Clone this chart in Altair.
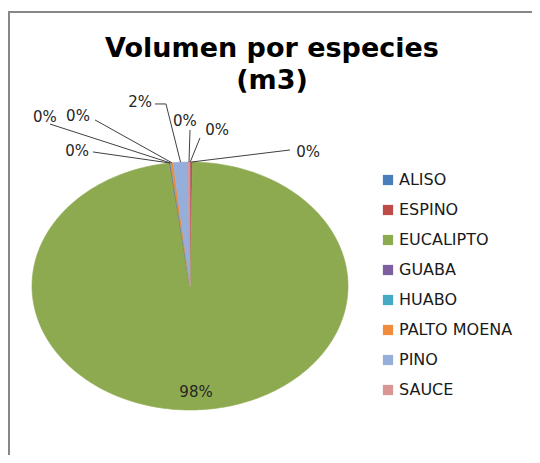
import numpy as np
import pandas as pd
import altair as alt

# ---------------- data ----------------
species = ["ALISO", "ESPINO", "EUCALIPTO", "GUABA", "HUABO", "PALTO MOENA", "PINO", "SAUCE"]
shares = [0.05, 0.2, 97.7, 0.05, 0.05, 0.25, 1.5, 0.2]
colors = ["#4A7EBB", "#BE4B48", "#8EAA50", "#7D5FA0", "#46AAC5", "#F08C3C", "#95AEDA", "#D99694"]
title_lines = ["Volumen por especies", "(m3)"]

# ---------------- layout (label placement, normalized pie units) ----------------
LABEL_TEXT = {
    "GUABA": (-0.715, 1.089), "HUABO": (-0.918, 1.363), "PALTO MOENA": (-0.709, 1.371),
    "PINO": (-0.316, 1.484), "SAUCE": (-0.032, 1.331), "ALISO": (0.171, 1.258),
    "ESPINO": (0.747, 1.081), "EUCALIPTO": (0.038, -0.855),
}
LEADER = {
    "GUABA": [(-0.614, 1.081)], "HUABO": [(-0.886, 1.306)], "PALTO MOENA": [(-0.601, 1.339)],
    "PINO": [(-0.152, 1.468), (-0.222, 1.468)], "SAUCE": [(0.0, 1.258)],
    "ALISO": [(0.063, 1.194)], "ESPINO": [(0.633, 1.097)],
}

total = float(sum(shares))
cum = np.concatenate([[0.0], np.cumsum(shares)]) / total * 360.0

slice_rows, lab_rows, lead_rows = [], [], []
for k, sp in enumerate(species):
    a0, a1 = cum[k], cum[k + 1]
    n = max(2, int(a1 - a0) + 2)
    angs = np.radians(np.linspace(a0, a1, n))
    pts = [(0.0, 0.0)] + [(float(np.sin(a)), float(np.cos(a))) for a in angs] + [(0.0, 0.0)]
    for i, (u, v) in enumerate(pts):
        slice_rows.append({"species": sp, "i": i, "u": u, "v": v})
    pct = int(np.floor(shares[k] / total * 100 + 0.5))
    tu, tv = LABEL_TEXT[sp]
    lab_rows.append({"species": sp, "u": tu, "v": tv, "label": f"{pct}%"})
    if sp in LEADER:
        mid = np.radians((a0 + a1) / 2)
        path = [(float(np.sin(mid)), float(np.cos(mid)))] + LEADER[sp]
        for i, (u, v) in enumerate(path):
            lead_rows.append({"species": sp, "i": i, "u": u, "v": v})

slices = pd.DataFrame(slice_rows)
labels = pd.DataFrame(lab_rows)
leaders = pd.DataFrame(lead_rows)
legend_df = pd.DataFrame({"species": species})

W, H = 524, 447
xs = alt.Scale(domain=[-1, 1], range=[24, 340], zero=False, nice=False)
ys = alt.Scale(domain=[-1, 1], range=[402, 154], zero=False, nice=False)
color_scale = alt.Scale(domain=species, range=colors)

pie = alt.Chart(slices).mark_line(strokeWidth=0.6, interpolate="linear").encode(
    x=alt.X("u:Q", scale=xs, axis=None),
    y=alt.Y("v:Q", scale=ys, axis=None),
    detail="species:N",
    order="i:Q",
    fill=alt.Fill("species:N", scale=color_scale, legend=None),
    stroke=alt.Stroke("species:N", scale=color_scale, legend=None),
)

lead = alt.Chart(leaders).mark_line(color="#404040", strokeWidth=1).encode(
    x=alt.X("u:Q", scale=xs, axis=None),
    y=alt.Y("v:Q", scale=ys, axis=None),
    detail="species:N",
    order="i:Q",
)

txt = alt.Chart(labels).mark_text(font="DejaVu Sans", fontSize=15, color="#262626",
                                  align="center", baseline="middle").encode(
    x=alt.X("u:Q", scale=xs, axis=None),
    y=alt.Y("v:Q", scale=ys, axis=None),
    text="label:N",
)

leg_y = alt.Y("species:N", scale=alt.Scale(type="point", domain=species, range=[172, 382], padding=0), axis=None)
leg_sq = alt.Chart(legend_df).mark_square(size=105, opacity=1).encode(
    x=alt.value(380),
    y=leg_y,
    color=alt.Color("species:N", scale=color_scale, legend=None),
)
leg_txt = alt.Chart(legend_df).mark_text(font="DejaVu Sans", fontSize=16, color="#1a1a1a",
                                         align="left", baseline="middle").encode(
    x=alt.value(391),
    y=leg_y,
    text="species:N",
)

one = pd.DataFrame({"k": [0]})
title = alt.Chart(one).mark_text(text=title_lines, font="DejaVu Sans", fontSize=27, fontWeight="bold",
                                 color="#000000", align="center", baseline="alphabetic",
                                 lineHeight=32).encode(x=alt.value(264), y=alt.value(49))

frame = pd.DataFrame({"b": [0, 1], "i": [0, 1]})
border_top = alt.Chart(frame).mark_line(color="#878787", strokeWidth=2).encode(
    x=alt.X("b:Q", scale=alt.Scale(domain=[0, 1], range=[0, W], nice=False, zero=False), axis=None),
    y=alt.value(4), order="i:Q")
border_left = alt.Chart(frame).mark_line(color="#878787", strokeWidth=2).encode(
    x=alt.value(1),
    y=alt.Y("b:Q", scale=alt.Scale(domain=[0, 1], range=[3, H], nice=False, zero=False), axis=None),
    order="i:Q")

chart = alt.layer(border_top, border_left, title, pie, lead, txt, leg_sq, leg_txt).resolve_scale(
    x="independent", y="independent", color="independent", fill="independent", stroke="independent"
).properties(
    width=W, height=H, autosize=alt.AutoSizeParams(type="none"), padding=0,
    background="white", view=alt.ViewBackground(strokeOpacity=0, strokeWidth=0),
).configure_view(strokeOpacity=0, strokeWidth=0)

chart.save("out.html", embed_options={"renderer": "svg", "actions": False})
